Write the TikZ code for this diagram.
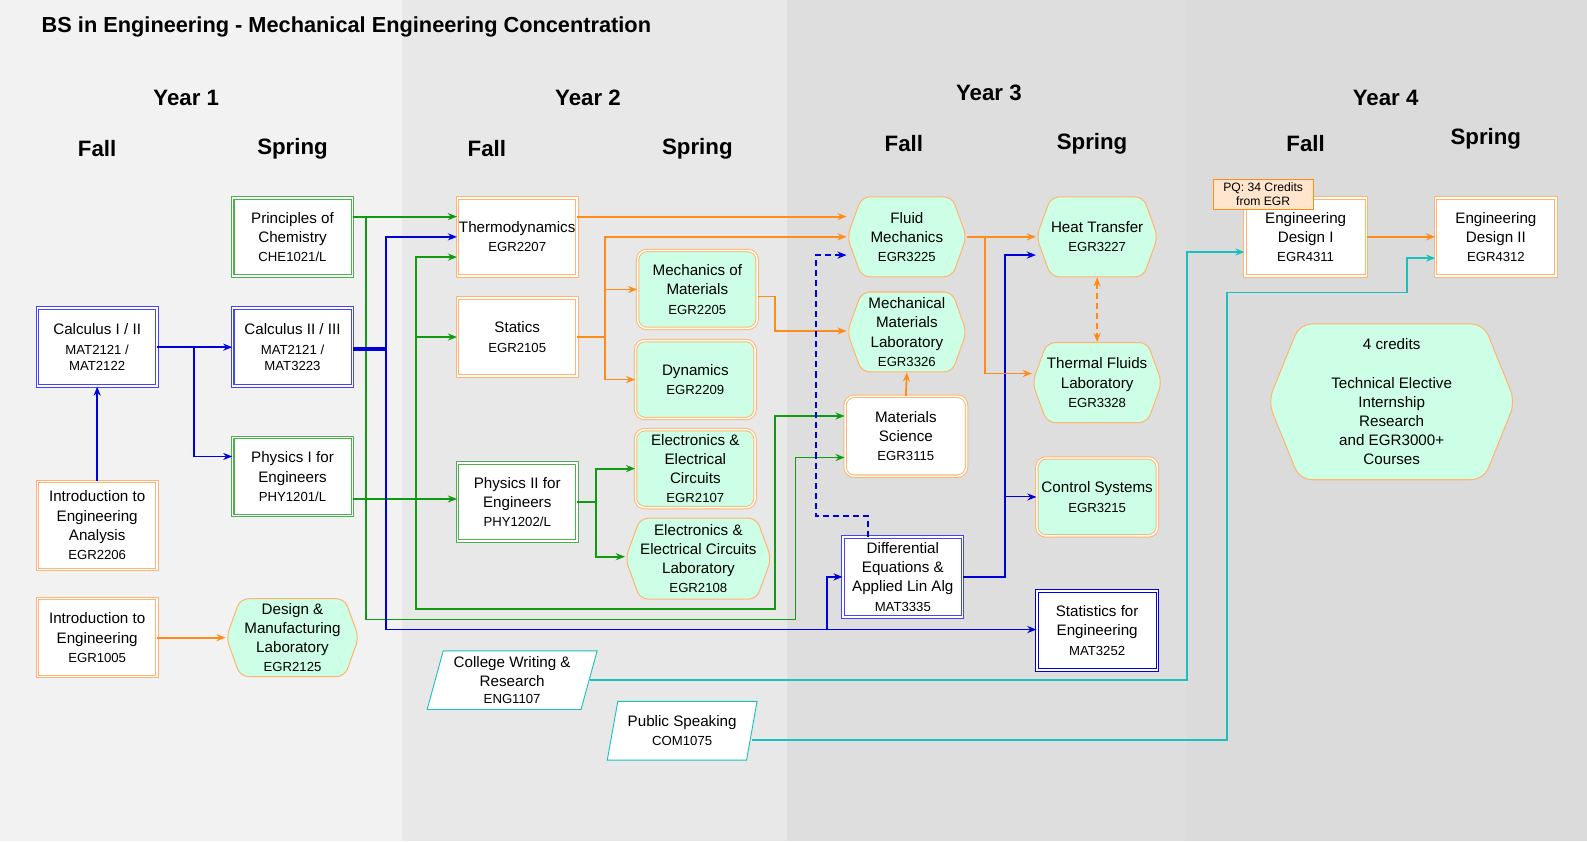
\documentclass[tikz,border=0pt]{standalone}
\usepackage{fontspec}
\setmainfont{Liberation Sans}
\usetikzlibrary{arrows.meta,shapes.symbols,shapes.geometric}
\definecolor{blu}{HTML}{0000DD}
\definecolor{lblu}{HTML}{4444FF}
\definecolor{grn}{HTML}{109A10}
\definecolor{lgrn}{HTML}{4CAF50}
\definecolor{orng}{HTML}{FF8C1A}
\definecolor{lorng}{HTML}{FFB570}
\definecolor{cyn}{HTML}{1ABFBF}
\definecolor{mint}{HTML}{CCFFE6}
\newcommand{\cc}[1]{{\fontsize{13}{17}\selectfont #1}}
\tikzset{
	box/.style={minimum width=118pt, minimum height=77pt, align=center, font=\fontsize{15}{19}\selectfont, inner sep=1pt, double=white, double distance=1.4pt, line width=1pt},
	bbox/.style={box, draw=lblu, fill=white},
	gbox/.style={box, draw=lgrn, fill=white},
	obox/.style={box, draw=lorng, fill=white},
	rbox/.style={box, draw=lorng, fill=mint, rounded corners=9pt},
	hex/.style={shape=signal, signal to=east and west, signal pointer angle=140, draw=lorng, fill=mint, line width=1pt, rounded corners=8pt, minimum width=118pt, minimum height=79pt, align=center, font=\fontsize{15}{19}\selectfont, inner sep=0pt},
	para/.style={trapezium, trapezium left angle=72, trapezium right angle=108, trapezium stretches body=true, draw=cyn, fill=white, line width=0.9pt, align=center, font=\fontsize{15}{19}\selectfont, minimum height=58pt, inner sep=1pt},
	arr/.style={line width=1.8pt, -{Stealth[length=9pt,width=7pt]}},
	b/.style={arr, draw=blu},
	g/.style={arr, draw=grn},
	o/.style={arr, draw=orng},
	c/.style={arr, draw=cyn},
	hd/.style={font=\fontsize{22}{26}\bfseries\selectfont},
}
\begin{document}
\begin{tikzpicture}[x=1pt,y=-1pt]
		\useasboundingbox (0,0) rectangle (1568,831);
		%columns
		\fill[white] (0,0) rectangle (1568,831);
		\fill[black!5] (0,0) rectangle (397,831);
		\fill[black!9] (397,0) rectangle (778,831);
		\fill[black!13] (778,0) rectangle (1173,831);
		\fill[black!14] (1173,0) rectangle (1568,831);
		
		%headings
		\node[anchor=west, inner sep=0pt, font=\fontsize{21.5}{24}\bfseries\selectfont] (title) at (41,27){BS in Engineering - Mechanical Engineering Concentration};
		\node[hd] (y1) at (184,97){Year 1};
		\node[hd] (y2) at (581,97){Year 2};
		\node[hd] (y3) at (977,92){Year 3};
		\node[hd] (y4) at (1369,97){Year 4};
		\node[hd] (f1) at (96,147){Fall};
		\node[hd] (s1) at (289,147){Spring};
		\node[hd] (f2) at (481,147){Fall};
		\node[hd] (s2) at (689,147){Spring};
		\node[hd] (f3) at (893,142){Fall};
		\node[hd] (s3) at (1079,142){Spring};
		\node[hd] (f4) at (1290,142){Fall};
		\node[hd] (s4) at (1468,137){Spring};
		
		%year 1
		\node (chem) at (289,234) [gbox]{Principles of\\Chemistry\\\cc{CHE1021/L}};
		\node (calc1) at (96,343) [bbox]{Calculus I / II\\\cc{MAT2121 /}\\[-3pt]\cc{MAT2122}};
		\node (calc2) at (289,343) [bbox]{Calculus II / III\\\cc{MAT2121 /}\\[-3pt]\cc{MAT3223}};
		\node (phys1) at (289,471) [gbox]{Physics I for\\Engineers\\\cc{PHY1201/L}};
		\node (intro) at (96,519) [obox, minimum height=87pt]{Introduction to\\Engineering\\Analysis\\\cc{EGR2206}};
		\node (introeng) at (96,630) [obox]{Introduction to\\Engineering\\\cc{EGR1005}};
		\node (dm) at (289,630) [hex, minimum width=131pt, minimum height=77pt]{Design \&\\Manufacturing\\Laboratory\\\cc{EGR2125}};
		
		%year 2
		\node (thermo) at (511,234) [obox]{Thermodynamics\\\cc{EGR2207}};
		\node (statics) at (511,333) [obox]{Statics\\\cc{EGR2105}};
		\node (phys2) at (511,496) [gbox]{Physics II for\\Engineers\\\cc{PHY1202/L}};
		\node (mom) at (689,286) [rbox]{Mechanics of\\Materials\\\cc{EGR2205}};
		\node (dyn) at (687,375) [rbox]{Dynamics\\\cc{EGR2209}};
		\node (ec) at (687,463) [rbox]{Electronics \&\\Electrical\\Circuits\\\cc{EGR2107}};
		\node (el) at (690,552) [hex, minimum width=130pt, minimum height=80pt]{Electronics \&\\Electrical Circuits\\Laboratory\\\cc{EGR2108}};
		\node (cw) at (506,672) [para, minimum width=168pt]{College Writing \&\\Research\\[-2pt]\cc{ENG1107}};
		\node (ps) at (674,722) [para, minimum width=148pt]{Public Speaking\\\cc{COM1075}};
		
		%year 3
		\node (fluid) at (896,234) [hex]{Fluid\\Mechanics\\\cc{EGR3225}};
		\node (mml) at (896,328) [hex]{Mechanical\\Materials\\Laboratory\\\cc{EGR3326}};
		\node (matsci) at (895,431) [box, draw=lorng, fill=white, rounded corners=9pt, minimum width=120pt, minimum height=79pt]{Materials\\Science\\\cc{EGR3115}};
		\node (diffeq) at (892,570) [bbox, minimum height=79pt]{Differential\\Equations \&\\Applied Lin Alg\\\cc{MAT3335}};
		\node (heat) at (1084,234) [hex]{Heat Transfer\\\cc{EGR3227}};
		\node (thermal) at (1084,378) [hex]{Thermal Fluids\\Laboratory\\\cc{EGR3328}};
		\node (ctrl) at (1084,491) [rbox, minimum width=119pt]{Control Systems\\\cc{EGR3215}};
		\node (stats) at (1084,623) [box, draw=blu, fill=white, minimum width=119pt, minimum height=78pt]{Statistics for\\Engineering\\\cc{MAT3252}};
		
		%year 4
		\node (ed1) at (1290,234) [obox, minimum width=120pt]{Engineering\\Design I\\\cc{EGR4311}};
		\node (pq) at (1248,192) [draw=orng, fill=orange!20, line width=0.8pt, minimum width=99pt, minimum height=30pt, inner sep=1pt, align=center, font=\fontsize{12}{14}\selectfont]{PQ: 34 Credits\\from EGR};
		\node (ed2) at (1478,234) [obox, minimum width=119pt]{Engineering\\Design II\\\cc{EGR4312}};
		\node (elec) at (1375,397) [hex, minimum width=244pt, minimum height=154pt, signal pointer angle=136, rounded corners=12pt]{4 credits\\[19pt]Technical Elective\\Internship\\Research\\and EGR3000+\\Courses};
		
		%year 1 links
		\draw[b] (calc1.east) -- (calc2.west);
		\draw[b] (192,343) |- (phys1.west |- 0,451);
		\draw[b] (intro.north) -- (calc1.south);
		\draw[o] (introeng.east) -- (dm.west);
		\draw[g] (chem.east |- 0,214) -- (thermo.west |- 0,214);
		\draw[g] (362,214) |- (786,612) |- (matsci.west |- 0,452);
		\draw[g] (phys1.east |- 0,493) -- (phys2.west |- 0,493);
		\draw[g] (411,493) |- (thermo.west |- 0,254);
		\draw[g] (411,333) -- (statics.west);
		\draw[g] (411,493) |- (766,602) |- (matsci.west |- 0,411);
		\draw[blu, line width=3.5pt] (calc2.east |- 0,345) -- (381,345);
		\draw[b] (381,345) |- (thermo.west |- 0,234);
		\draw[b] (381,345) |- (stats.west |- 0,622);
		\draw[b] (817,622) |- (diffeq.west |- 0,570);
		
		%year 2 links
		\draw[o] (thermo.east |- 0,214) -- (fluid.west |- 0,214);
		\draw[orng, line width=1.8pt] (statics.east) -- (598,333);
		\draw[o] (598,333) |- (fluid.west |- 0,234);
		\draw[o] (598,333) |- (mom.west |- 0,286);
		\draw[o] (598,333) |- (dyn.west |- 0,375);
		\draw[o] (mom.east |- 0,293) -- (766,293) |- (mml.west |- 0,327);
		\draw[g] (phys2.east) -- (589,496) |- (ec.west |- 0,463);
		\draw[g] (589,496) |- (el.west |- 0,550);
		\draw[c] (cw.east |- 0,672) -| (1173,249) -- (ed1.west |- 0,249);
		\draw[c] (ps.east |- 0,731) -| (1212,289) -| (1390,255) -- (ed2.west |- 0,255);
		
		%year 3 links
		\draw[o] (matsci.north) -- (mml.south);
		\draw[b, dash pattern=on 6pt off 4pt] (858,531) |- (806,510) |- (fluid.west |- 0,252);
		\draw[b] (diffeq.east) -- (993,570) |- (heat.west |- 0,252);
		\draw[b, line width=1pt] (993,491) -- (ctrl.west);
		\draw[o] (fluid.east) -- (heat.west);
		\draw[o] (973,234) |- (thermal.west |- 0,369);
		\draw[o, dash pattern=on 6pt off 4pt, {Stealth[length=9pt,width=7pt]}-{Stealth[length=9pt,width=7pt]}] (heat.south) -- (thermal.north);
		
		%year 4 links
		\draw[o] (ed1.east) -- (ed2.west);
		\end{tikzpicture}
\end{document}
